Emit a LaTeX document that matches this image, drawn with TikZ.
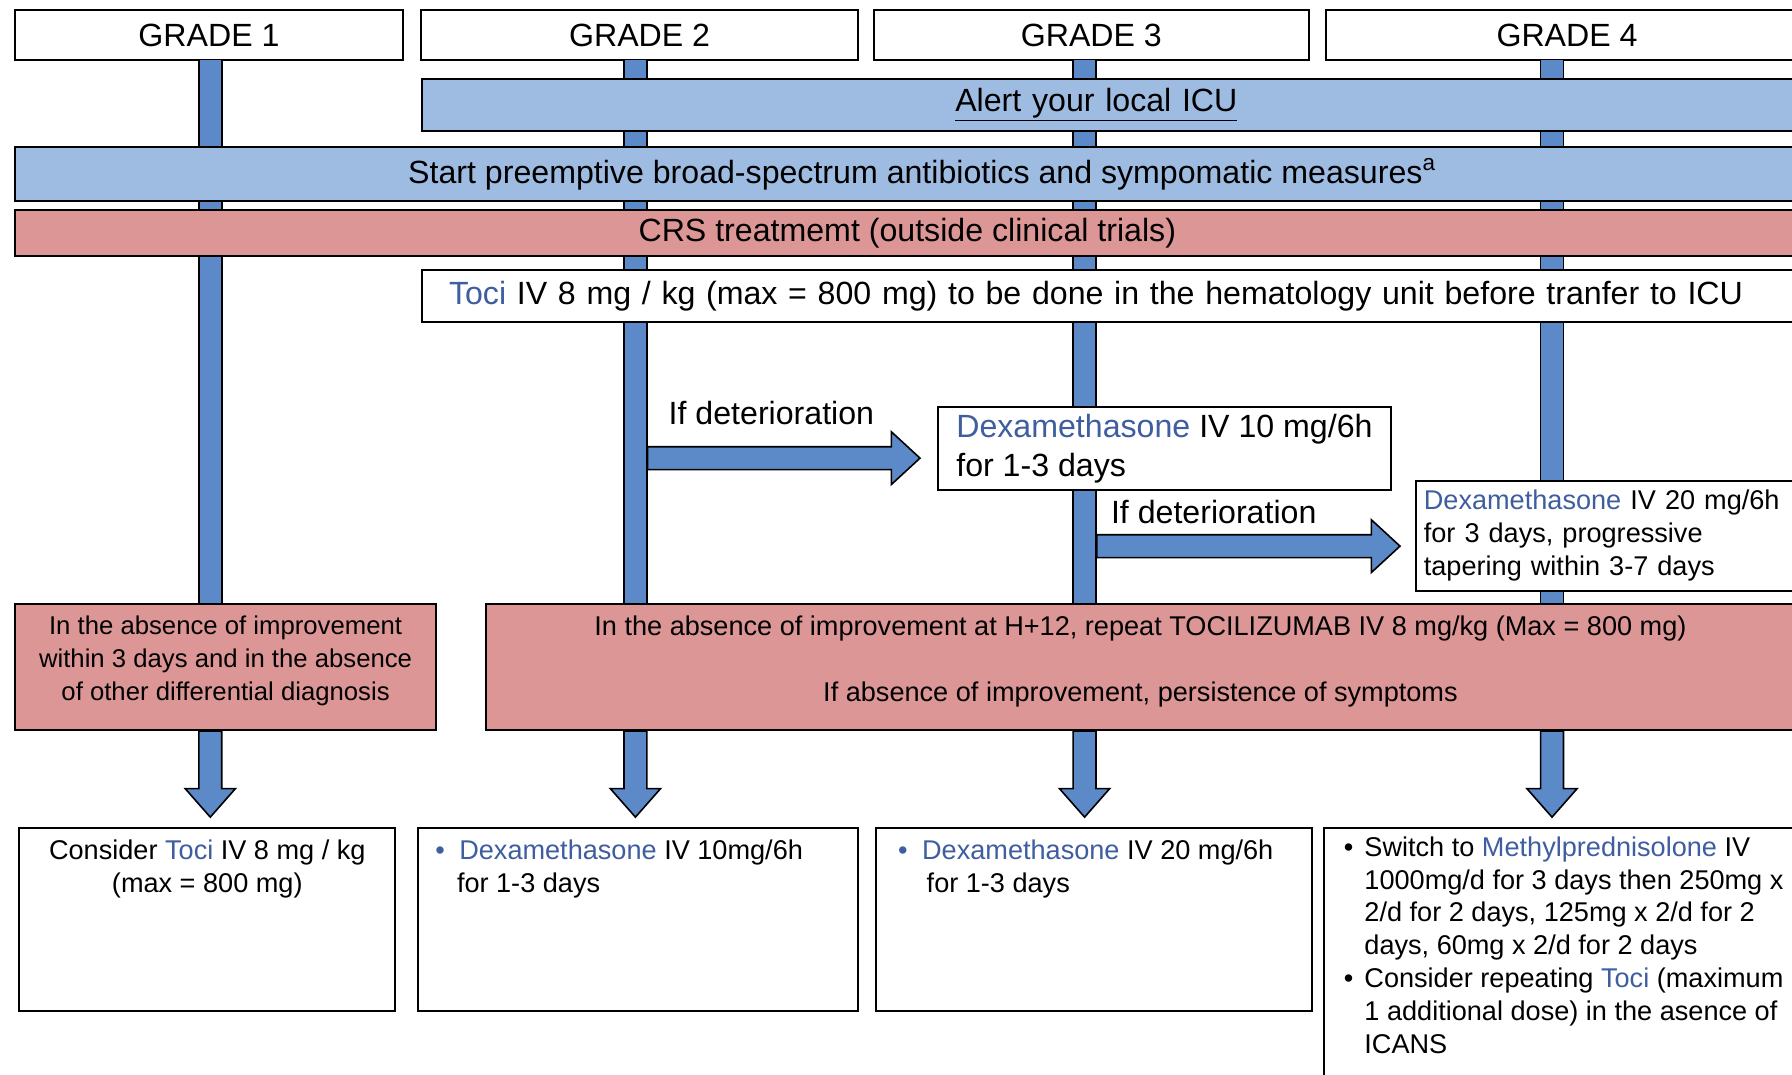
\documentclass[tikz,border=0pt]{standalone}
\usepackage{fontspec}
\setmainfont{Liberation Sans}
\usetikzlibrary{positioning, calc}

\definecolor{barblue}{RGB}{92,138,200}
\definecolor{bandblue}{RGB}{158,188,226}
\definecolor{bandpink}{RGB}{221,150,150}
\definecolor{drugblue}{RGB}{62,94,160}
\newcommand{\drug}[1]{\textcolor{drugblue}{#1}}

\tikzset{
  big/.style={font=\fontsize{16}{19.4}\selectfont},
  small/.style={font=\fontsize{13.5}{16.4}\selectfont},
  box/.style={draw, line width=1pt, anchor=north west, inner sep=0pt},
  gradebox/.style={box, fill=white, minimum height=8.8mm, big},
  band/.style={box, minimum height=9.2mm, big},
  vbar/.style={draw, line width=0.8pt, fill=barblue, minimum width=4mm, minimum height=95.2mm, inner sep=0pt},
  rfat/.style={draw, line width=0.8pt, fill=barblue, to path={let \p1=(\tikztostart), \p2=(\tikztotarget) in
      (\x1,\y2+2mm) -- (\x2-5mm,\y2+2mm) -- (\x2-5mm,\y2+4.6mm) -- (\x2,\y2) -- (\x2-5mm,\y2-4.6mm) -- (\x2-5mm,\y2-2mm) -- (\x1,\y2-2mm) -- cycle}},
  dfat/.style={draw, line width=0.8pt, fill=barblue, to path={let \p1=(\tikztostart), \p2=(\tikztotarget) in
      (\x1-2mm,\y1) -- (\x1-2mm,\y2+5mm) -- (\x1-4.4mm,\y2+5mm) -- (\x1,\y2) -- (\x1+4.4mm,\y2+5mm) -- (\x1+2mm,\y2+5mm) -- (\x1+2mm,\y1) -- cycle}},
}

\begin{document}
\begin{tikzpicture}[x=0.2mm, y=-0.2mm]
        \useasboundingbox (0,0) rectangle (1568,940);
        \clip (0,0) rectangle (1568,940);
        \fill[white] (0,0) rectangle (1568,940);

        \node[gradebox, minimum width=68mm] (g1) at (12,8) {GRADE 1};
        \node[gradebox, minimum width=76.4mm, right=2.8mm of g1] (g2) {GRADE 2};
        \node[gradebox, minimum width=76.2mm, right=2.4mm of g2] (g3) {GRADE 3};
        \node[gradebox, minimum width=84.4mm, right=2.6mm of g3] (g4) {GRADE 4};

        \node[box, fill=bandpink, font=\fontsize{12.8}{16.4}\selectfont, minimum width=73.8mm, minimum height=22mm, align=center] (pinkl) at (12,528) {In the absence of improvement\\within 3 days and in the absence\\of other differential diagnosis\\[-2.6mm]};
        \node[box, fill=bandpink, small, minimum width=229.2mm, minimum height=22mm, align=center] (pinkr) at (424,528) {In the absence of improvement at H+12, repeat TOCILIZUMAB IV 8 mg/kg (Max = 800 mg)\\[5.8mm]If absence of improvement, persistence of symptoms\\[-2.6mm]};

        % lanes behind the bands
        \foreach \n/\x in {1/184, 2/556, 3/949, 4/1358}
            \node[vbar] (bar\n) at (\x,290) {};

        \node[band, fill=bandblue, text width=59.6mm, align=left, inner xsep=93.4mm] (alert) at (368,68) {\underline{Alert your local ICU}};
        \node[band, fill=bandblue, minimum width=317.6mm, minimum height=9.4mm] (abx) at (12,128) {Start preemptive broad-spectrum antibiotics and sympomatic measures\textsuperscript{a}};
        \node[band, fill=bandpink, minimum width=312.4mm, minimum height=8mm] (crs) at (12,183) {CRS treatmemt (outside clinical trials)};
        \node[band, fill=white, text width=236.8mm, align=left, inner xsep=4.8mm] (toci) at (368,235) {\drug{Toci} IV 8 mg / kg (max = 800 mg) to be done in the hematology unit before tranfer to ICU};

        \node[box, fill=white, big, minimum width=79.2mm, minimum height=14.6mm, align=left] (dexa10) at (820,355) {\drug{Dexamethasone} IV 10 mg/6h\\for 1-3 days};
        \node[box, fill=white, small, text width=67.6mm, minimum height=19.2mm, align=left, inner xsep=1.4mm] (dexa20) at (1238,420) {\drug{Dexamethasone} IV 20 mg/6h\\for 3 days, progressive\\tapering within 3-7 days};

        \node[big] (det1) at (675,361) {If deterioration};
        \node[big] (det2) at (1062,448) {If deterioration};

        \draw[rfat] (bar2.east) to ([xshift=-3mm,yshift=-1.7mm]dexa10.west);
        \draw[rfat] (bar3.east) to ([xshift=-2.6mm,yshift=-1.8mm]dexa20.west);

        %% Bottom
        \node[box, small, inner xsep=1mm, inner ysep=2mm] (b1) at (16,724) {\parbox[c][28mm][t]{63.8mm}{\centering Consider \drug{Toci} IV 8 mg / kg\\(max = 800 mg)}};
        \node[box, small, inner xsep=3mm, inner ysep=2mm] (b2) at (365,724) {\parbox[c][28mm][t]{71mm}{\raggedright\makebox[4.2mm][l]{\drug{•}}\drug{Dexamethasone} IV 10mg/6h\\\hspace*{3.8mm}for 1-3 days}};
        \node[box, small, inner xsep=3.8mm, inner ysep=2mm] (b3) at (766,724) {\parbox[c][28mm][t]{68.6mm}{\raggedright\makebox[4.2mm][l]{\drug{•}}\drug{Dexamethasone} IV 20 mg/6h\\\hspace*{5mm}for 1-3 days}};
        \node[box, small, inner xsep=3.4mm, inner ysep=1.4mm] (b4) at (1158,724) {\parbox[c][44.4mm][t]{81.6mm}{\raggedright
            \makebox[3.6mm][l]{•}Switch to \drug{Methylprednisolone} IV\\
            \hspace*{3.6mm}1000mg/d for 3 days then 250mg x\\
            \hspace*{3.6mm}2/d for 2 days, 125mg x 2/d for 2\\
            \hspace*{3.6mm}days, 60mg x 2/d for 2 days\\
            \makebox[3.6mm][l]{•}Consider repeating \drug{Toci} (maximum\\
            \hspace*{3.6mm}1 additional dose) in the asence of\\
            \hspace*{3.6mm}ICANS}};

        \draw[dfat] (pinkl.south -| bar1) to ([yshift=1.8mm]b1.north -| bar1);
        \draw[dfat] (pinkr.south -| bar2) to ([yshift=1.8mm]b2.north -| bar2);
        \draw[dfat] (pinkr.south -| bar3) to ([yshift=1.8mm]b3.north -| bar3);
        \draw[dfat] (pinkr.south -| bar4) to ([yshift=1.8mm]b4.north -| bar4);
\end{tikzpicture}
\end{document}
